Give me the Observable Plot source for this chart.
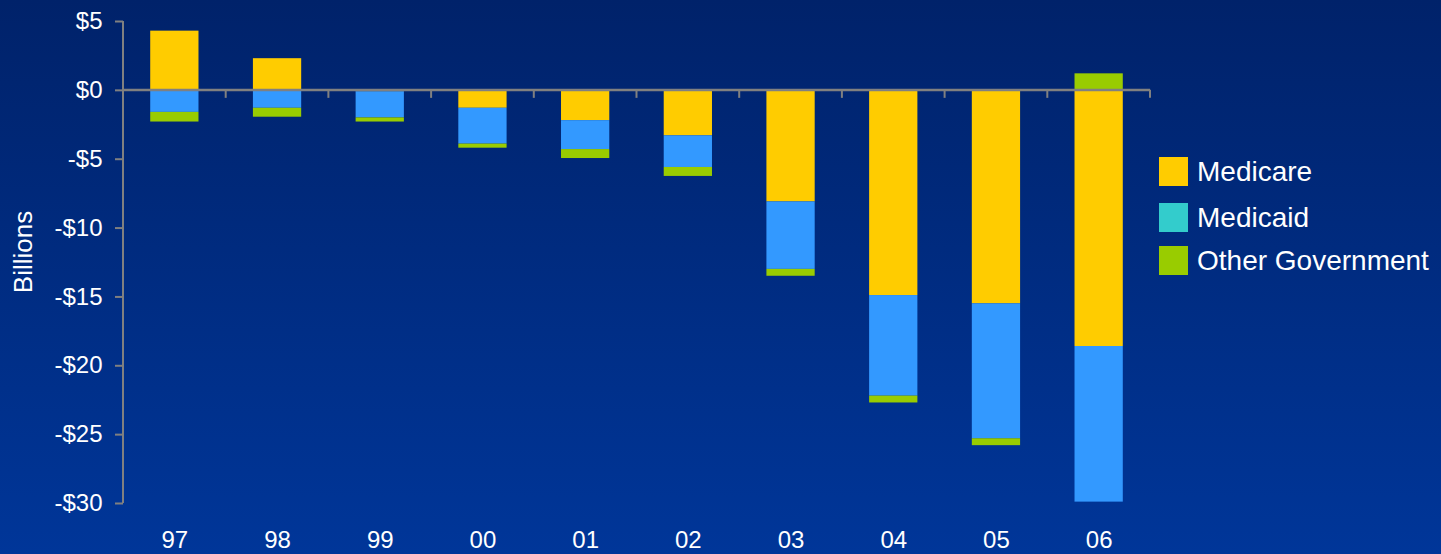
<!DOCTYPE html>
<html>
<head>
<meta charset="utf-8">
<script src="https://cdn.jsdelivr.net/npm/d3@7"></script>
<script src="https://cdn.jsdelivr.net/npm/@observablehq/plot@0.6"></script>
<style>
  html, body { margin: 0; padding: 0; }
  #wrap {
    position: relative; width: 1441px; height: 554px; overflow: hidden;
    background: linear-gradient(to bottom, #00226a 0%, #003699 100%);
    font-family: "Liberation Sans", Arial, sans-serif;
  }
  #legend { position: absolute; left: 1159px; top: 157px; }
  .item { position: absolute; left: 0; display: flex; align-items: center; white-space: nowrap; }
  .sw { width: 29px; height: 29px; margin-right: 9px; }
  .lab { color: #ffffff; font-size: 28px; line-height: 29px; }
</style>
</head>
<body>
<div id="wrap"></div>
<script>
const years = ["97","98","99","00","01","02","03","04","05","06"];
const medicare = [4.3, 2.3, -0.1, -1.3, -2.2, -3.3, -8.1, -14.9, -15.5, -18.6];
const medicaid = [-1.6, -1.3, -1.9, -2.6, -2.1, -2.3, -4.9, -7.3, -9.8, -11.3];
const otherGov = [-0.7, -0.65, -0.3, -0.3, -0.65, -0.65, -0.5, -0.5, -0.5, 1.2];
const seriesNames = ["Medicare", "Medicaid", "Other Government"];
const barColors = ["#FFCC00", "#3399FF", "#99CC00"];
const legendColors = ["#FFCC00", "#33CCCC", "#99CC00"];
const yTicks = [5, 0, -5, -10, -15, -20, -25, -30];

const seriesValues = [medicare, medicaid, otherGov];
const data = [];
seriesNames.forEach((s, si) => {
  years.forEach((yr, i) => data.push({year: yr, series: s, value: seriesValues[si][i]}));
});

const axisColor = "#808080";
const fmt = d => d < 0 ? "-$" + (-d) : "$" + d;

const plot = Plot.plot({
  width: 1441,
  height: 554,
  marginLeft: 123,
  marginRight: 291,
  marginTop: 21,
  marginBottom: 51,
  style: {background: "transparent", fontFamily: "'Liberation Sans', Arial, sans-serif", color: "#ffffff", overflow: "visible"},
  x: {domain: years, paddingInner: 0.53, paddingOuter: 0.265, align: 0.5, round: false},
  y: {domain: [-30, 5]},
  color: {domain: seriesNames, range: barColors},
  marks: [
    Plot.barY(data, {x: "year", y: "value", fill: "series", order: seriesNames}),
    Plot.ruleY([0], {stroke: axisColor, strokeWidth: 2}),
    Plot.axisY(yTicks, {tickFormat: fmt, tickSize: 8, tickPadding: 13, stroke: axisColor, strokeWidth: 2, strokeOpacity: 1, fill: "#ffffff", fontSize: 24, label: null}),
    Plot.axisX({tickSize: 0, tickPadding: 27, fill: "#ffffff", fontSize: 24, label: null})
  ]
});

// Axis line and category-boundary ticks, from the plot's own scales
const xs = plot.scale("x");
const ys = plot.scale("y");
const svg = d3.select(plot);
const gap = (xs.step - xs.bandwidth) / 2;
const y0 = ys.apply(0);
const g = svg.append("g").attr("stroke", axisColor).attr("stroke-width", 2);
const [yTop, yBot] = [ys.apply(5), ys.apply(-30)];
const xLeft = xs.apply(years[0]) - gap;
g.append("line").attr("x1", xLeft).attr("x2", xLeft).attr("y1", yTop).attr("y2", yBot);
const bounds = years.map(c => xs.apply(c) - gap);
bounds.push(xs.apply(years[years.length - 1]) + xs.bandwidth + gap);
bounds.forEach(b => {
  g.append("line").attr("x1", b).attr("x2", b).attr("y1", y0).attr("y2", y0 + 8);
});
g.append("line").attr("x1", xLeft).attr("x2", bounds[bounds.length - 1]).attr("y1", y0).attr("y2", y0);

svg.append("text")
  .attr("transform", `translate(25,${(yTop + yBot) / 2 - 10}) rotate(-90)`)
  .attr("text-anchor", "middle")
  .attr("dominant-baseline", "middle")
  .attr("fill", "#ffffff")
  .attr("font-size", 26)
  .text("Billions");

const wrap = document.getElementById("wrap");
wrap.appendChild(plot);
plot.style.position = "absolute";
plot.style.left = "0";
plot.style.top = "0";

const legend = document.createElement("div");
legend.id = "legend";
const tops = [0, 46, 89];
seriesNames.forEach((s, i) => {
  const it = document.createElement("div");
  it.className = "item";
  it.style.top = tops[i] + "px";
  const sw = document.createElement("div");
  sw.className = "sw";
  sw.style.background = legendColors[i];
  const lab = document.createElement("span");
  lab.className = "lab";
  lab.textContent = s;
  it.appendChild(sw);
  it.appendChild(lab);
  legend.appendChild(it);
});
wrap.appendChild(legend);
</script>
</body>
</html>
